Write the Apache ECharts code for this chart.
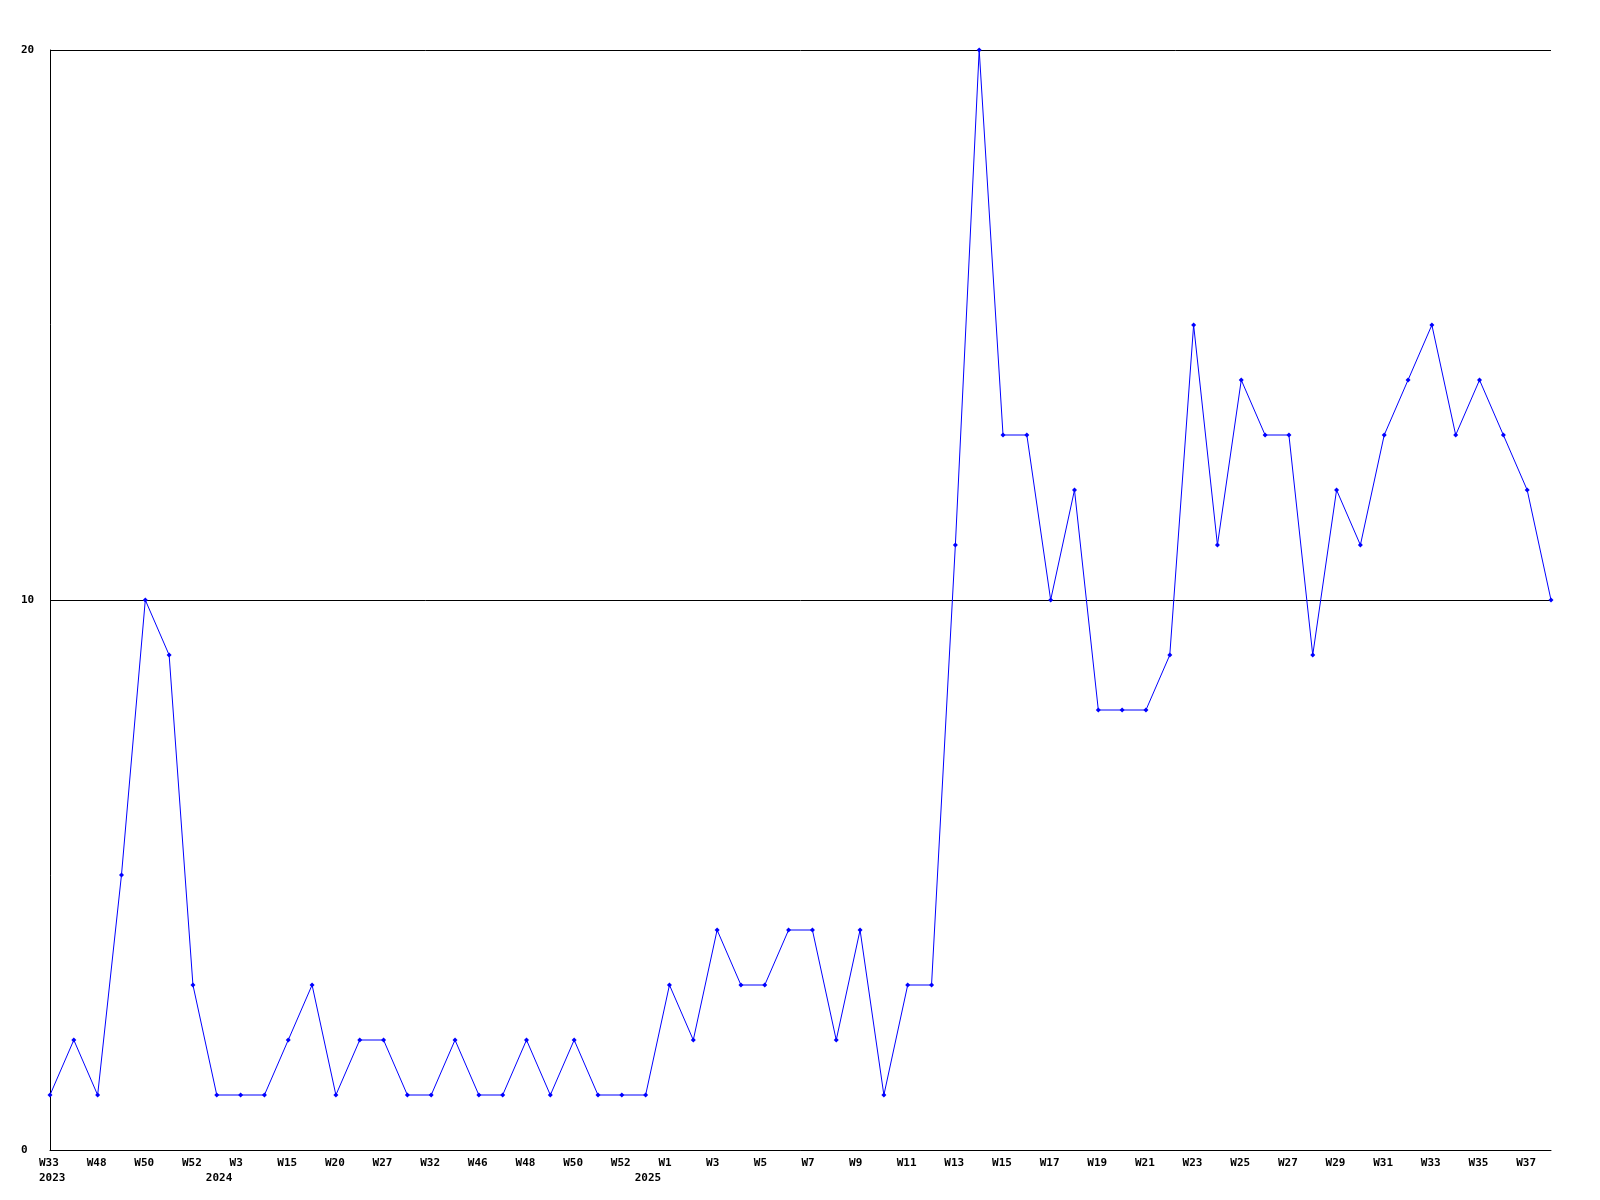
<!DOCTYPE html>
<html>
<head>
<meta charset="utf-8">
<script src="https://cdn.jsdelivr.net/npm/echarts@6/dist/echarts.min.js"></script>
<style>
html,body{margin:0;padding:0;background:#fff;}
#chart{width:1600px;height:1200px;}
</style>
</head>
<body>
<div id="chart"></div>
<script>
// Week labels for each point (only every other one is drawn on the axis)
const weeks = ['W33','W40','W48','W49','W50','W51','W52','W2','W3','W10','W15','W17','W20','W24','W27','W30','W32','W40','W46','W47','W48','W49','W50','W51','W52','W0','W1','W2','W3','W4','W5','W6','W7','W8','W9','W10','W11','W12','W13','W14','W15','W16','W17','W18','W19','W20','W21','W22','W23','W24','W25','W26','W27','W28','W29','W30','W31','W32','W33','W34','W35','W36','W37','W38'];
const years = [2023,2023,2023,2023,2023,2023,2023,2024,2024,2024,2024,2024,2024,2024,2024,2024,2024,2024,2024,2024,2024,2024,2024,2024,2024,2025,2025,2025,2025,2025,2025,2025,2025,2025,2025,2025,2025,2025,2025,2025,2025,2025,2025,2025,2025,2025,2025,2025,2025,2025,2025,2025,2025,2025,2025,2025,2025,2025,2025,2025,2025,2025,2025,2025];
const values = [1,2,1,5,10,9,3,1,1,1,2,3,1,2,2,1,1,2,1,1,2,1,2,1,1,1,3,2,4,3,3,4,4,2,4,1,3,3,11,20,13,13,10,12,8,8,8,9,15,11,14,13,13,9,12,11,13,14,15,13,14,13,12,10];
const yTicks = [0, 10, 20];

const cats = weeks.map((w, i) => years[i] + '-' + w);
const yearStart = years.map((y, i) => i === 0 || years[i - 1] !== y);
const font = {fontFamily: 'DejaVu Sans Mono', fontWeight: 'bold', fontSize: 11, color: '#000'};
const richBox = {t: Object.assign({width: 22, align: 'left'}, font)};

const chart = echarts.init(document.getElementById('chart'), null, {renderer: 'canvas'});
chart.setOption({
  animation: false,
  backgroundColor: '#fff',
  grid: {left: 50, right: 49, top: 50, bottom: 50, containLabel: false},
  xAxis: [{
    type: 'category',
    data: cats,
    boundaryGap: false,
    position: 'bottom',
    axisLine: {show: true, lineStyle: {color: '#000', width: 1}},
    axisTick: {show: false},
    splitLine: {show: false},
    axisLabel: Object.assign({
      interval: (i) => i % 2 === 0,
      margin: 8,
      align: 'center',
      rich: richBox,
      formatter: (v) => '{t|' + v.split('-')[1] + '}'
    }, font)
  }, {
    type: 'category',
    data: cats,
    boundaryGap: false,
    position: 'bottom',
    offset: 15,
    axisLine: {show: false},
    axisTick: {show: false},
    splitLine: {show: false},
    axisLabel: Object.assign({
      interval: (i) => yearStart[i],
      margin: 8,
      align: 'center',
      rich: richBox,
      formatter: (v) => '{t|' + v.split('-')[0] + '}'
    }, font)
  }],
  yAxis: {
    type: 'value',
    min: yTicks[0],
    max: yTicks[yTicks.length - 1],
    interval: 10,
    axisLine: {show: true, lineStyle: {color: '#000', width: 1}},
    axisTick: {show: false},
    splitLine: {show: true, lineStyle: {color: '#000', width: 1}},
    axisLabel: Object.assign({align: 'left', margin: 29}, font)
  },
  series: [{
    type: 'line',
    xAxisIndex: 0,
    data: values,
    symbol: 'diamond',
    symbolSize: 5,
    showAllSymbol: true,
    lineStyle: {color: '#0000ff', width: 1},
    itemStyle: {color: '#0000ff'}
  }]
});
</script>
</body>
</html>
